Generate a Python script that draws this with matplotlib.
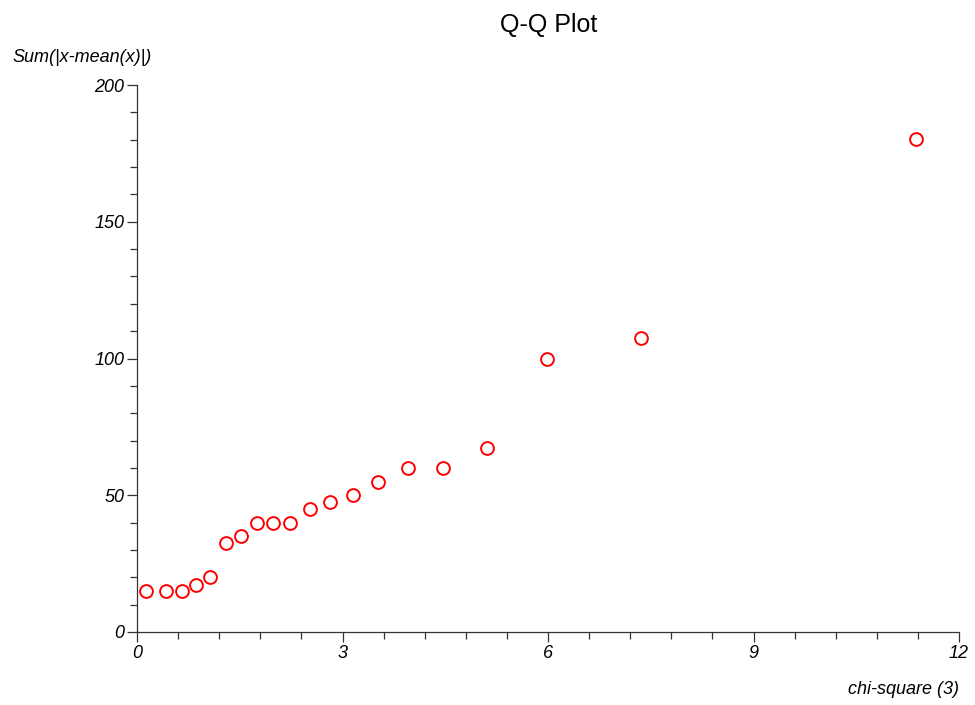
import matplotlib
matplotlib.use("Agg")
import matplotlib.pyplot as plt
from matplotlib.ticker import MultipleLocator

chi_square_q = [0.13, 0.42, 0.66, 0.86, 1.07, 1.30, 1.52, 1.75, 1.99, 2.23,
                2.53, 2.82, 3.15, 3.52, 3.96, 4.47, 5.11, 5.99, 7.36, 11.37]
sum_abs_dev = [15, 15, 15, 17.2, 20, 32.5, 35, 40, 40, 40,
               45, 47.5, 50, 55, 60, 60, 67.3, 100, 107.5, 180.3]
x_ticks = [0, 3, 6, 9, 12]
y_ticks = [0, 50, 100, 150, 200]

plt.rcParams['font.family'] = ['Liberation Sans', 'DejaVu Sans']

fig = plt.figure(figsize=(9.75, 7.05), dpi=100)
ax = fig.add_axes([137/975, 1 - 632/705, (959-137)/975, (632-85)/705])

ax.plot(chi_square_q, sum_abs_dev, linestyle='none', marker='o',
        markersize=9.2, markerfacecolor='none', markeredgecolor='#ff0000',
        markeredgewidth=1.4)

ax.set_xlim(0, 12)
ax.set_ylim(0, 200)
ax.set_xticks(x_ticks)
ax.set_yticks(y_ticks)
ax.xaxis.set_minor_locator(MultipleLocator(0.6))
ax.yaxis.set_minor_locator(MultipleLocator(10))
ax.set_xticklabels([str(v) for v in x_ticks], fontstyle='italic', fontsize=13)
ax.set_yticklabels([str(v) for v in y_ticks], fontstyle='italic', fontsize=13)

for s in ['top', 'right']:
    ax.spines[s].set_visible(False)
for s in ['left', 'bottom']:
    ax.spines[s].set_color('#333333')
    ax.spines[s].set_linewidth(0.9)

ax.tick_params(axis='both', which='major', length=7, width=0.9, color='#333333', pad=2)
ax.tick_params(axis='both', which='minor', length=5, width=0.9, color='#333333')

fig.text(549/975, 1 - 25/705, 'Q-Q Plot', ha='center', va='center', fontsize=18)
fig.text(12/975, 1 - 58/705, 'Sum(|x-mean(x)|)', ha='left', va='center',
         fontsize=13, fontstyle='italic')
fig.text(959/975, 1 - 690/705, 'chi-square (3)', ha='right', va='center',
         fontsize=13, fontstyle='italic')

fig.savefig('out.png', dpi=100)
